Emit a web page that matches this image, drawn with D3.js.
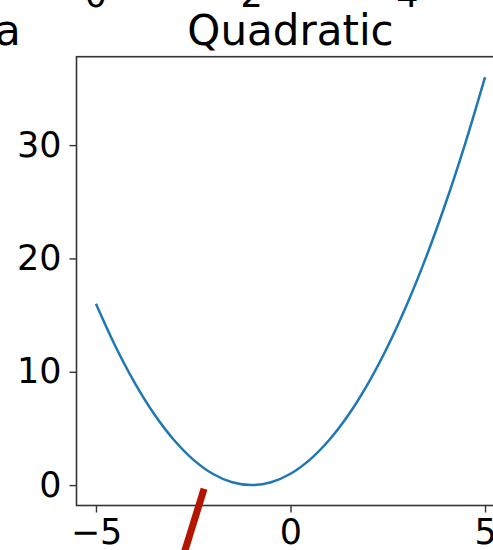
<!DOCTYPE html>
<html>
<head>
<meta charset="utf-8">
<script src="https://cdn.jsdelivr.net/npm/d3@7"></script>
<style>
  html, body { margin: 0; padding: 0; background: #fff; }
  svg { display: block; }
  text { font-family: "DejaVu Sans", sans-serif; fill: #000; }
</style>
</head>
<body>
<svg id="chart" width="493" height="550"></svg>
<script>
// Quadratic panel: sampled points of the curve
const xs = [-5, -4.5, -4, -3.5, -3, -2.5, -2, -1.5, -1, -0.5, 0, 0.5, 1, 1.5, 2, 2.5, 3, 3.5, 4, 4.5, 5];
const ys = [16, 12.25, 9, 6.25, 4, 2.25, 1, 0.25, 0, 0.25, 1, 2.25, 4, 6.25, 9, 12.25, 16, 20.25, 25, 30.25, 36];
const xTicks = [-5, 0, 5];
const yTicks = [0, 10, 20, 30];
const title = "Quadratic";

// Neighbouring panels that spill into view
const upperTicks = [0, 2, 4];
const leftTitleTail = "a";
const lowerLineX = [1.39, 1.03];
const lowerLineY = [9.6, 5.5];

const svg = d3.select("#chart");
svg.append("rect").attr("width", 493).attr("height", 550).attr("fill", "#fff");

const x = d3.scaleLinear().domain([-5.5, 5.5]).range([76.5, 504.5]);
const y = d3.scaleLinear().domain([-1.8, 37.8]).range([505.5, 56.7]);

const spine = "#333";
const fs = 35;

// curve
const pts = xs.map((v, i) => [v, ys[i]]);
svg.append("path")
  .datum(pts)
  .attr("fill", "none")
  .attr("stroke", "#1f77b4")
  .attr("stroke-width", 2.5)
  .attr("d", d3.line().x(d => x(d[0])).y(d => y(d[1])).curve(d3.curveCatmullRom));

// axes
const xAxis = svg.append("g")
  .attr("transform", `translate(0,${y.range()[0]})`)
  .call(d3.axisBottom(x).tickValues(xTicks).tickSize(7).tickPadding(7).tickFormat(d3.format("d")));
const yAxis = svg.append("g")
  .attr("transform", `translate(${x.range()[0]},0)`)
  .call(d3.axisLeft(y).tickValues(yTicks).tickSize(7).tickPadding(8).tickFormat(d3.format("d")));
[xAxis, yAxis].forEach(g => {
  g.select(".domain").remove();
  g.selectAll(".tick line").attr("stroke", spine).attr("stroke-width", 1.4);
  g.selectAll(".tick text").attr("font-size", fs).attr("font-family", "DejaVu Sans").attr("fill", "#000");
});

// frame
svg.append("rect")
  .attr("x", x.range()[0]).attr("y", y.range()[1])
  .attr("width", x.range()[1] - x.range()[0])
  .attr("height", y.range()[0] - y.range()[1])
  .attr("fill", "none").attr("stroke", spine).attr("stroke-width", 1.6);

// title
svg.append("text")
  .attr("x", (x.range()[0] + x.range()[1]) / 2)
  .attr("y", 45)
  .attr("text-anchor", "middle")
  .attr("font-size", 42)
  .text(title);

// tail of the left panel's title
svg.append("text")
  .attr("x", -5).attr("y", 45)
  .attr("font-size", 42)
  .text(leftTitleTail);

// upper panel tick labels
const ux = d3.scaleLinear().domain([0, 4]).range([96, 407.5]);
svg.append("g").selectAll("text")
  .data(upperTicks)
  .join("text")
  .attr("x", d => ux(d))
  .attr("y", 7)
  .attr("text-anchor", "middle")
  .attr("font-size", fs)
  .text(d => d);

// lower panel line
const lx = d3.scaleLinear().domain([0, 4]).range([96, 407]);
const ly = d3.scaleLinear().domain([0, 10]).range([700, 480]);
svg.append("path")
  .datum(lowerLineX.map((v, i) => [v, lowerLineY[i]]))
  .attr("fill", "none")
  .attr("stroke", "#b31500")
  .attr("stroke-width", 7)
  .attr("d", d3.line().x(d => lx(d[0])).y(d => ly(d[1])));
</script>
</body>
</html>
